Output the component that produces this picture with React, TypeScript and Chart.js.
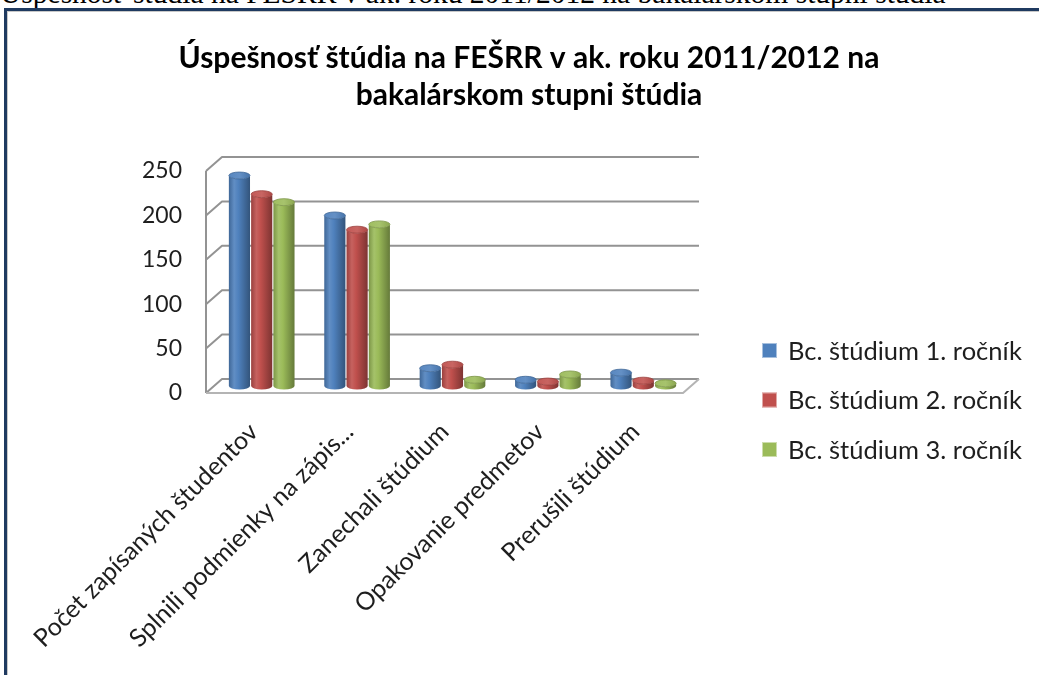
import React, { useEffect, useRef } from 'react';
import { Chart, registerables } from 'chart.js';

Chart.register(...registerables);

// ---------- data ----------
const categories = [
  'Počet zapísaných študentov',
  'Splnili podmienky na zápis...',
  'Zanechali štúdium',
  'Opakovanie predmetov',
  'Prerušili štúdium',
];
const seriesNames = ['Bc. štúdium 1. ročník', 'Bc. štúdium 2. ročník', 'Bc. štúdium 3. ročník'];
const rocnik1 = [237, 192, 20, 7, 15];
const rocnik2 = [216, 176, 24, 5, 6];
const rocnik3 = [207, 182, 7, 13, 3];
const seriesColors = ['#4f81bd', '#c0504d', '#9bbb59'];
const yMin = 0;
const yMax = 250;
const yStep = 50;
const titleLines = ['Úspešnosť štúdia na FEŠRR v ak. roku 2011/2012 na', 'bakalárskom stupni štúdia'];
const pageCaption = 'Úspešnosť štúdia na FEŠRR v ak. roku 2011/2012 na bakalárskom stupni štúdia';

// ---------- helpers ----------
const DX = 16;
const DY = -14;
const FONT = 'Lato, "Open Sans", sans-serif';

function hexToRgb(h: string) {
  const n = parseInt(h.slice(1), 16);
  return [(n >> 16) & 255, (n >> 8) & 255, n & 255];
}
function mix(h: string, target: number, t: number) {
  const [r, g, b] = hexToRgb(h);
  const f = (c: number) => Math.round(c + (target - c) * t);
  return `rgb(${f(r)},${f(g)},${f(b)})`;
}

function drawCylinder(ctx: CanvasRenderingContext2D, cx: number, top: number, bottom: number, rx: number, color: string) {
  const ry = rx * 0.33;
  if (top > bottom) top = bottom;
  const g = ctx.createLinearGradient(cx - rx, 0, cx + rx, 0);
  g.addColorStop(0, mix(color, 0, 0.2));
  g.addColorStop(0.25, mix(color, 255, 0.1));
  g.addColorStop(0.45, color);
  g.addColorStop(1, mix(color, 0, 0.35));
  ctx.fillStyle = g;
  ctx.beginPath();
  ctx.moveTo(cx - rx, top);
  ctx.lineTo(cx - rx, bottom);
  ctx.ellipse(cx, bottom, rx, ry, 0, Math.PI, 0, true);
  ctx.lineTo(cx + rx, top);
  ctx.ellipse(cx, top, rx, ry, 0, 0, Math.PI, false);
  ctx.closePath();
  ctx.fill();
  const g2 = ctx.createLinearGradient(cx - rx, 0, cx + rx, 0);
  g2.addColorStop(0, mix(color, 255, 0.05));
  g2.addColorStop(0.5, mix(color, 255, 0.12));
  g2.addColorStop(1, mix(color, 0, 0.1));
  ctx.fillStyle = g2;
  ctx.beginPath();
  ctx.ellipse(cx, top, rx, ry, 0, 0, Math.PI * 2);
  ctx.fill();
  ctx.strokeStyle = mix(color, 0, 0.2);
  ctx.lineWidth = 0.8;
  ctx.stroke();
}

const pseudo3d = {
  id: 'pseudo3d',
  beforeDatasetsDraw(chart: any) {
    const { ctx, chartArea: a, scales } = chart;
    const ys = scales.y;
    const y0 = ys.getPixelForValue(yMin);
    const yT = ys.getPixelForValue(yMax);
    ctx.save();
    ctx.lineWidth = 2;
    ctx.strokeStyle = '#939393';
    ctx.lineJoin = 'round';
    ctx.beginPath();
    ctx.moveTo(a.left, y0);
    ctx.lineTo(a.left, yT);
    ctx.stroke();
    for (const t of ys.ticks) {
      const py = ys.getPixelForValue(t.value);
      ctx.beginPath();
      ctx.moveTo(a.left, py);
      ctx.lineTo(a.left + DX, py + DY);
      ctx.lineTo(a.right + DX, py + DY);
      ctx.stroke();
    }
    ctx.strokeStyle = '#b4b4b4';
    ctx.beginPath();
    ctx.moveTo(a.left, y0);
    ctx.lineTo(a.right, y0);
    ctx.lineTo(a.right + DX, y0 + DY);
    ctx.stroke();
    const n = chart.data.labels.length;
    for (let i = 0; i < n; i++) {
      chart.data.datasets.forEach((ds: any, di: number) => {
        if (!chart.isDatasetVisible(di)) return;
        const el = chart.getDatasetMeta(di).data[i];
        if (!el) return;
        const p = el.getProps(['x', 'y', 'base', 'width'], true);
        drawCylinder(ctx, p.x + DX / 2, p.y + DY / 2, p.base + DY / 2, p.width / 2, ds.backgroundColor);
      });
    }
    ctx.restore();
    return false;
  },
};

// legend drawn from the chart's datasets (Chart.js caps a right legend's width)
const sideLegend = {
  id: 'sideLegend',
  afterDraw(chart: any) {
    const { ctx } = chart;
    const x = 754;
    const cy = 388;
    const gap = 49.5;
    const n = chart.data.datasets.length;
    ctx.save();
    ctx.font = `25.5px ${FONT}`;
    ctx.textBaseline = 'middle';
    ctx.textAlign = 'left';
    chart.data.datasets.forEach((ds: any, i: number) => {
      const y = cy + (i - (n - 1) / 2) * gap;
      ctx.fillStyle = ds.backgroundColor;
      ctx.fillRect(x, y - 7.5, 15, 15);
      ctx.strokeStyle = 'rgba(255,255,255,0.5)';
      ctx.lineWidth = 1;
      ctx.strokeRect(x + 0.5, y - 7, 14, 14);
      ctx.fillStyle = '#1e1e1e';
      ctx.fillText(ds.label, x + 26, y + 1);
    });
    ctx.restore();
  },
};

export default function App() {
  const ref = useRef<HTMLCanvasElement | null>(null);

  useEffect(() => {
    if (!ref.current) return;
    const chart = new Chart(ref.current, {
      type: 'bar',
      data: {
        labels: categories,
        datasets: [rocnik1, rocnik2, rocnik3].map((d, i) => ({
          label: seriesNames[i],
          data: d,
          backgroundColor: seriesColors[i],
          borderWidth: 0,
          yAxisID: 'y',
          barPercentage: 0.95,
          categoryPercentage: 0.7,
        })),
      },
      options: {
        responsive: false,
        animation: false,
        events: [],
        layout: { padding: 0 },
        plugins: {
          title: {
            display: true,
            text: titleLines,
            color: '#000',
            font: { family: FONT, size: 30, weight: 'bold', lineHeight: 1.233 },
            padding: { top: 28, bottom: 57 },
          },
          legend: { display: false },
          tooltip: { enabled: false },
        },
        scales: {
          x: {
            grid: { display: false, drawTicks: false },
            border: { display: false },
            ticks: {
              autoSkip: false,
              minRotation: 45,
              maxRotation: 45,
              padding: 24,
              color: '#1e1e1e',
              font: { family: FONT, size: 25 },
            },
            afterFit: (s: any) => { s.height = 395; s.paddingLeft = 0; s.paddingRight = 0; },
          },
          y: {
            position: 'left',
            min: yMin,
            max: yMax,
            grid: { display: false, drawTicks: false },
            border: { display: false },
            ticks: {
              stepSize: yStep,
              padding: 24,
              color: '#1e1e1e',
              font: { family: FONT, size: 23 },
            },
            afterFit: (s: any) => { s.width = 198; },
          },
          y2: {
            position: 'right',
            display: true,
            grid: { display: false, drawTicks: false },
            border: { display: false },
            ticks: { display: false },
            afterFit: (s: any) => { s.width = 367; },
          },
        },
      },
      plugins: [pseudo3d, sideLegend],
    } as any);
    return () => chart.destroy();
  }, []);

  return (
    <div style={{ position: 'fixed', left: 0, top: 0, width: 1039, height: 675, overflow: 'hidden', background: '#fff' }}>
      <div
        style={{
          position: 'absolute', left: 0, top: -21, whiteSpace: 'nowrap',
          fontFamily: '"Liberation Serif", "Times New Roman", serif', fontSize: 29.5, lineHeight: '28px', color: '#000',
        }}
      >
        {pageCaption}
      </div>
      <div
        style={{
          position: 'absolute', left: 4, top: 8, width: 1100, height: 800,
          border: '3px solid #1f3a60', boxShadow: 'inset 1px 1px 0 0 #c8c8c8', boxSizing: 'border-box',
        }}
      />
      <canvas
        ref={ref}
        width={1042}
        height={776}
        style={{ position: 'absolute', left: 8, top: 12, width: 1042, height: 776, display: 'block' }}
      />
    </div>
  );
}
